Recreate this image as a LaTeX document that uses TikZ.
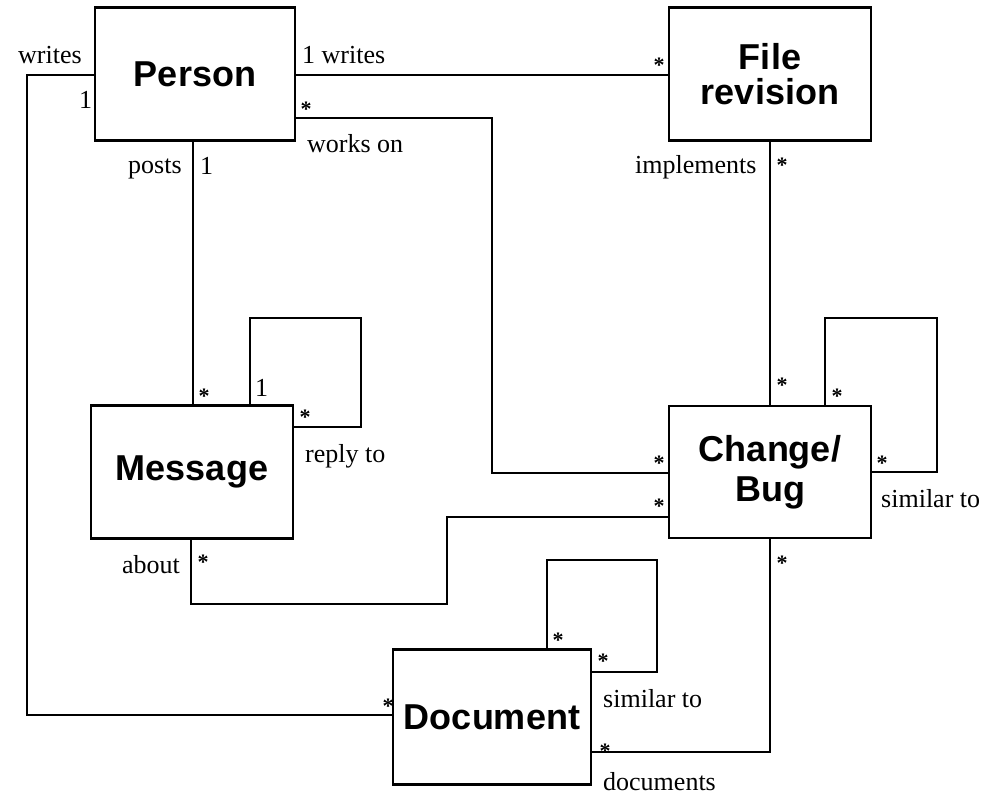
\documentclass[tikz,border=0pt]{standalone}
\usepackage{fontspec}
\setmainfont{Liberation Serif}
\newfontfamily\boxfont{Liberation Sans}
\begin{document}
\begin{tikzpicture}[x=1pt,y=-1pt,
  entity/.style={draw,line width=2.5pt,inner sep=0pt,outer sep=0pt,align=center,
    font=\boxfont\bfseries\fontsize{36}{38}\selectfont},
  assoc/.style={line width=2.3pt},
  lbl/.style={anchor=base west,inner sep=0pt,font=\fontsize{26}{28}\selectfont},
  mult/.style={anchor=base,inner sep=0pt,yshift=-10.3pt,font=\bfseries\fontsize{22}{22}\selectfont}]
\useasboundingbox (0,0) rectangle (997,798);

% classes
\node[entity,minimum width=200pt,minimum height=133pt] (person) at (195,74) {Person};
\node[entity,minimum width=202pt,minimum height=133pt,
      font=\boxfont\bfseries\fontsize{36}{35}\selectfont] (filerev) at (770,74) {File\\revision};
\node[entity,minimum width=202pt,minimum height=133pt] (msg) at (192,472) {Message};
\node[entity,minimum width=202pt,minimum height=132pt,
      font=\boxfont\bfseries\fontsize{36}{40}\selectfont] (change) at (770,472) {Change/\\Bug};
\node[entity,minimum width=198pt,minimum height=135pt] (doc) at (492,717) {Document};

% bend points
\coordinate (wl) at (27,715);
\coordinate (fw) at (0,75);
\coordinate (wk) at (492,118);
\coordinate (wk2) at (492,473);
\coordinate (ps) at (193,0);
\coordinate (r1) at (250,318);
\coordinate (r2) at (361,427);
\coordinate (ab1) at (191,604);
\coordinate (ab2) at (447,604);
\coordinate (ab3) at (447,517);
\coordinate (c1) at (825,318);
\coordinate (c2) at (937,472);
\coordinate (d1) at (771,752);
\coordinate (dl1) at (547,560);
\coordinate (dl2) at (657,672);

% associations
\draw[assoc] (person.east |- fw) -- (filerev.west |- fw);
\draw[assoc] (person.west |- fw) -| (wl) -- (wl -| doc.west);
\draw[assoc] (person.east |- wk) -- (wk) -- (wk2) -- (change.west |- wk2);
\draw[assoc] (ps |- person.south) -- (ps |- msg.north);
\draw[assoc] (r1 |- msg.north) -- (r1) -| (r2) -- (r2 -| msg.east);
\draw[assoc] (ab1 |- msg.south) -- (ab1) -- (ab2) -- (ab3) -- (change.west |- ab3);
\draw[assoc] (filerev.south) -- (filerev.south |- change.north);
\draw[assoc] (c1 |- change.north) -- (c1) -| (c2) -- (c2 -| change.east);
\draw[assoc] (change.south) -- (change.south |- d1) -- (d1 -| doc.east);
\draw[assoc] (dl1 |- doc.north) -- (dl1) -| (dl2) -- (dl2 -| doc.east);

% role names and multiplicities
\node[lbl] (t1) at (18,63) {writes};
\node[lbl] (t2) at (79,108) {1};
\node[lbl] (t3) at (302,63) {1 writes};
\node[mult] (m1) at (659,62) {*};
\node[mult] (m2) at (306,106) {*};
\node[lbl] (t4) at (307,152) {works on};
\node[lbl] (t5) at (128,173) {posts};
\node[lbl] (t6) at (200,174) {1};
\node[mult] (m3) at (204,393) {*};
\node[lbl] (t7) at (255,396) {1};
\node[mult] (m4) at (305,414) {*};
\node[lbl] (t8) at (305,462) {reply to};
\node[lbl] (t9) at (122,573) {about};
\node[mult] (m5) at (203,559) {*};
\node[lbl] (t10) at (635,173) {implements};
\node[mult] (m6) at (782,162) {*};
\node[mult] (m7) at (782,382) {*};
\node[mult] (m8) at (837,393) {*};
\node[mult] (m9) at (882,460) {*};
\node[lbl] (t11) at (881,507) {similar to};
\node[mult] (m10) at (659,460) {*};
\node[mult] (m11) at (659,503) {*};
\node[mult] (m12) at (782,560) {*};
\node[mult] (m13) at (558,637) {*};
\node[mult] (m14) at (603,658) {*};
\node[lbl] (t12) at (603,707) {similar to};
\node[mult] (m15) at (605,748) {*};
\node[lbl] (t13) at (603,790) {documents};
\node[mult] (m16) at (388,703) {*};
\end{tikzpicture}
\end{document}
